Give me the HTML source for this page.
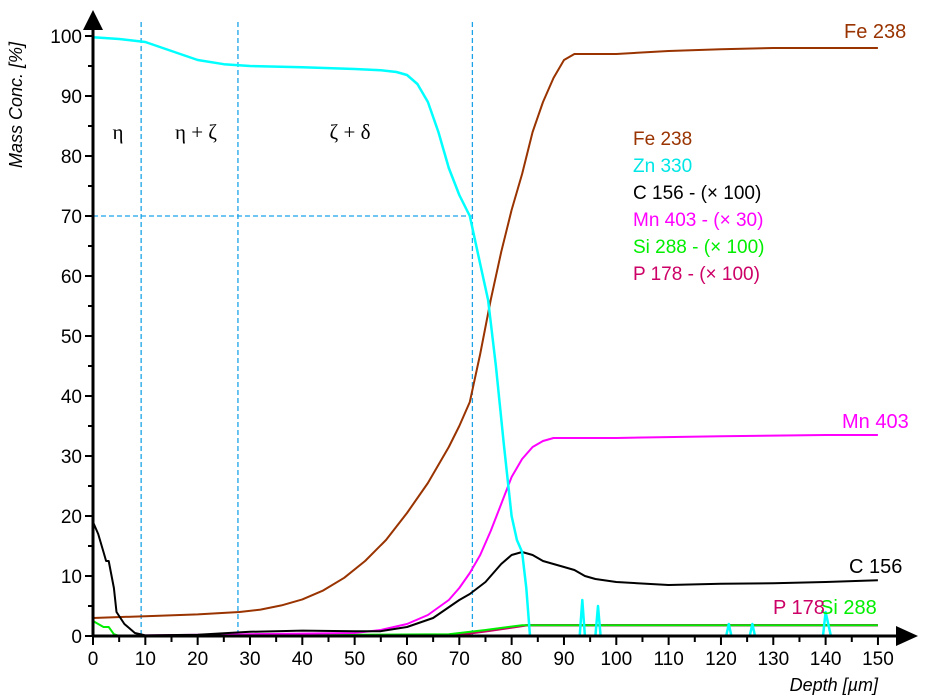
<!DOCTYPE html>
<html><head><meta charset="utf-8"><style>
body{margin:0;background:#fff;}
svg{display:block;font-family:"Liberation Sans",sans-serif;}
</style></head><body>
<svg id="chart" width="945" height="699" viewBox="0 0 945 699">
<g id="grid"></g><g id="series"></g><g id="axes"></g><g id="labels"></g>
</svg>
<script>
const feDepth=[0,10,20,28,32,36,40,44,48,52,56,60,64,68,70,72,74,76,78,80,82,84,86,88,90,92,95,100,110,120,130,140,150];
const feVal=[3,3.3,3.6,4,4.4,5.1,6.1,7.6,9.7,12.5,16,20.5,25.5,31.5,35,39,47,56,64,71,77,84,89,93,96,97,97,97,97.5,97.8,98,98,98];
const znDepth=[0,5,10,15,20,25,30,40,50,55,58,60,62,64,66,68,70,72,74,75.5,77,78.5,80,81,82,82.8,83.5,93,93.5,94,96,96.5,97,121,121.5,122,125.5,126,126.5,139.5,140,141,150];
const znVal=[99.8,99.5,99,97.5,96,95.3,95,94.8,94.5,94.3,94,93.5,92,89,84,78,73.5,70,62,56,45,32,20,16,14,8,0,0,6,0,0,5,0,0,2,0,0,2,0,0,4,0,0];
const mnDepth=[0,50,55,60,64,68,70,72,74,76,78,80,82,84,86,88,90,100,120,140,150];
const mnVal=[0,0.5,1,2,3.5,6,8,10.5,13.5,17.5,22,26.5,29.5,31.5,32.5,33,33,33,33.3,33.5,33.5];
const cDepth=[0,1,2,2.5,3,4,4.5,6,8,10,20,30,40,50,55,60,65,70,72,75,78,80,82,84,86,88,90,92,94,96,100,110,120,130,140,150];
const cVal=[19,17,14,12.5,12.5,8,4,2,0.5,0.1,0.2,0.7,0.9,0.8,0.8,1.5,3,6,7,9,12,13.5,14,13.5,12.5,12,11.5,11,10,9.5,9,8.5,8.7,8.8,9,9.3];
const siDepth=[0,2,3,4,5,68,75,82,150];
const siVal=[2.5,1.5,1.5,0.3,0,0.3,1,1.8,1.8];
const pDepth=[0,68,75,83,150];
const pVal=[0,0,0.8,1.8,1.8];
const xTicks=[0,10,20,30,40,50,60,70,80,90,100,110,120,130,140,150];
const yTicks=[0,10,20,30,40,50,60,70,80,90,100];
const phaseBounds=[9.2,27.7,72.5];
const NS='http://www.w3.org/2000/svg';
const X=d=>93+d*5.233, Y=v=>636-v*6;
function mk(tag,attrs,parent,text){const e=document.createElementNS(NS,tag);for(const k in attrs)e.setAttribute(k,attrs[k]);if(text!==undefined)e.textContent=text;document.getElementById(parent).appendChild(e);return e;}
const grid='grid';
phaseBounds.forEach(b=>{
const l=mk('line',{x1:X(b),x2:X(b),y1:22,y2:636,stroke:'#1aa3e8','stroke-width':1.3,'stroke-dasharray':'5,3'},grid);


});
const hl=mk('line',{x1:93,x2:X(72.5),y1:Y(70),y2:Y(70),stroke:'#1aa3e8','stroke-width':1.3,'stroke-dasharray':'5,3'},grid);


function series(ds,vs,color,name,w){
const pts=ds.map((d,i)=>X(d).toFixed(1)+','+Y(vs[i]).toFixed(1)).join(' ');
const p=mk('polyline',{points:pts,fill:'none',stroke:color,'stroke-width':w||2,'stroke-linejoin':'round'},'series');


}
series(pDepth,pVal,'#cc0066','p-178-line',2.5);
series(siDepth,siVal,'#00ee00','si-288-line',2);
series(feDepth,feVal,'#993300','fe-238-line');
series(mnDepth,mnVal,'#ff00ff','mn-403-line');
series(cDepth,cVal,'#000000','c-156-line');
series(znDepth,znVal,'#00ffff','zn-330-line',2.5);
const ax='axes';
mk('line',{x1:93,x2:93,y1:20,y2:637,stroke:'#000','stroke-width':3},ax);
mk('line',{x1:92,x2:900,y1:636,y2:636,stroke:'#000','stroke-width':3},ax);
const ya=mk('polygon',{points:'93,10 83,30 103,30',fill:'#000'},ax);

const xa=mk('polygon',{points:'918,636 896,626 896,646',fill:'#000'},ax);

yTicks.forEach(v=>{
mk('line',{x1:85,x2:93,y1:Y(v),y2:Y(v),stroke:'#000','stroke-width':2},ax);
if(v<100)mk('line',{x1:88,x2:93,y1:Y(v+5),y2:Y(v+5),stroke:'#000','stroke-width':2},ax);
const t=mk('text',{x:82,y:Y(v)+7,'text-anchor':'end','font-size':19},ax,v);


});
xTicks.forEach(d=>{
mk('line',{x1:X(d),x2:X(d),y1:636,y2:645,stroke:'#000','stroke-width':2},ax);
if(d<150)mk('line',{x1:X(d+5),x2:X(d+5),y1:636,y2:642,stroke:'#000','stroke-width':2},ax);
const t=mk('text',{x:X(d),y:665,'text-anchor':'middle','font-size':19},ax,d);


});
</script>
<svg style="position:absolute;left:0;top:0" width="945" height="699" font-family="Liberation Sans, sans-serif">
<text transform="translate(22,105) rotate(-90)" text-anchor="middle" font-size="18" font-style="italic">Mass Conc. [%]</text>
<text x="878" y="691" text-anchor="end" font-size="18" font-style="italic">Depth [µm]</text>
<g font-family="Liberation Serif, serif" font-size="21">
<text x="118" y="139" text-anchor="middle">η</text>
<text x="196" y="139" text-anchor="middle">η + ζ</text>
<text x="350" y="139" text-anchor="middle">ζ + δ</text>
</g>
<g font-size="19">
<text x="633" y="145" fill="#993300">Fe 238</text>
<text x="633" y="172" fill="#00e5e5">Zn 330</text>
<text x="633" y="199" fill="#000">C 156 - (× 100)</text>
<text x="633" y="226" fill="#ff00ff">Mn 403 - (× 30)</text>
<text x="633" y="253" fill="#00ee00">Si 288 - (× 100)</text>
<text x="633" y="280" fill="#cc0066">P 178 - (× 100)</text>
</g>
<g font-size="20">
<text x="844" y="38" fill="#993300">Fe 238</text>
<text x="842" y="428" fill="#ff00ff">Mn 403</text>
<text x="849" y="573" fill="#000">C 156</text>
<text x="820" y="614" fill="#00ee00">Si 288</text>
<text x="773" y="614" fill="#cc0066">P 178</text>
</g>
</svg>
</body></html>
